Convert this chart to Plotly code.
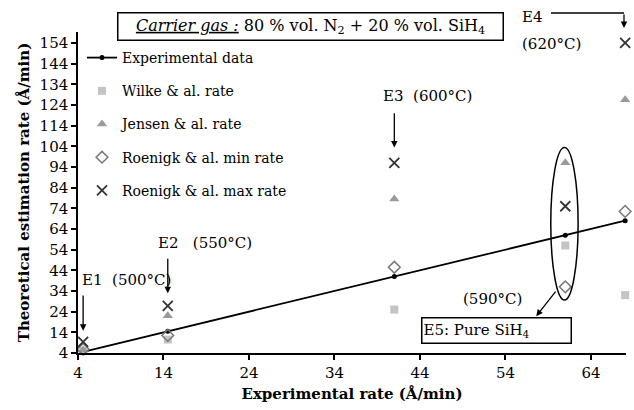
import plotly.graph_objects as go

# ---- data ----
experimental = [4.6, 14.5, 41.0, 61.0, 68.0]
exp_y = [4.6, 14.5, 41.0, 61.0, 68.0]
wilke = [5.0, 10.5, 25.0, 56.0, 32.0]
jensen = [5.5, 22.0, 78.5, 96.0, 126.5]
roenigk_min = [5.8, 12.5, 45.5, 36.0, 72.5]
roenigk_max = [9.4, 26.8, 96.0, 75.0, 154.0]

x_ticks = [4, 14, 24, 34, 44, 54, 64]
y_ticks = list(range(4, 155, 10))

FONT = "DejaVu Serif"

# plot area in pixels
L, R, T, B = 78, 626, 32, 353
W, H = 634, 410


def px(x):
    return (x - L) / (R - L)


def py(y):
    return (B - y) / (B - T)


fig = go.Figure()

fig.add_trace(go.Scatter(
    x=experimental, y=exp_y, mode="lines+markers", name="Experimental data",
    line=dict(color="black", width=1.8),
    marker=dict(symbol="circle", size=5, color="black"),
    cliponaxis=False, legendgroup="a"))
fig.add_trace(go.Scatter(
    x=experimental, y=wilke, mode="markers", name="Wilke & al. rate",
    marker=dict(symbol="square", size=8, color="#c4c4c4"),
    cliponaxis=False, legendgroup="b"))
fig.add_trace(go.Scatter(
    x=experimental, y=jensen, mode="markers", name="Jensen & al. rate",
    marker=dict(symbol="triangle-up", size=9, color="#9a9a9a"),
    cliponaxis=False, legendgroup="c"))
fig.add_trace(go.Scatter(
    x=experimental, y=roenigk_min, mode="markers", name="Roenigk & al. min rate",
    marker=dict(symbol="diamond-open", size=9, color="#777777", line=dict(width=1.5)),
    cliponaxis=False, legendgroup="d"))
fig.add_trace(go.Scatter(
    x=experimental, y=roenigk_max, mode="markers", name="Roenigk & al. max rate",
    marker=dict(symbol="x-thin-open", size=10, color="#333333", line=dict(width=1.8, color="#333333")),
    cliponaxis=False, legendgroup="e"))

axis_common = dict(
    showgrid=False, zeroline=False, showline=True, linecolor="black", linewidth=1.5,
    ticks="outside", ticklen=5, tickwidth=1.5, tickcolor="black", automargin=False,
    tickfont=dict(family=FONT, size=15, color="black"),
)

fig.update_xaxes(range=[4, 68.1], tickvals=x_ticks, **axis_common,
                 title=dict(text="<b>Experimental rate (Å/min)</b>",
                            font=dict(family=FONT, size=15, color="black"), standoff=8))
fig.update_yaxes(range=[4, 159.3], tickvals=y_ticks, **axis_common,
                 title=dict(text="<b>Theoretical estimation rate (Å/min)</b>",
                            font=dict(family=FONT, size=15, color="black"), standoff=6))

ann = []
txt_font = dict(family=FONT, size=15, color="black")

# Carrier gas box
ann.append(dict(xref="paper", yref="paper", x=px(310), y=py(26), xanchor="center", yanchor="middle",
                text="<i><u>Carrier gas :</u></i> 80 % vol. N<sub>2</sub> + 20 % vol. SiH<sub>4</sub>",
                showarrow=False, font=dict(family=FONT, size=16, color="black"),
                bordercolor="black", borderwidth=1.5,
                width=382, height=24, borderpad=1, bgcolor="white"))
# E5 box
ann.append(dict(xref="paper", yref="paper", x=px(496), y=py(330), xanchor="center", yanchor="middle",
                text="E5: Pure SiH<sub>4</sub>", align="left",
                showarrow=False, font=txt_font, bordercolor="black", borderwidth=1.5,
                width=146, height=22, borderpad=1, bgcolor="white"))

# labels
def label(text, x, y, anchor="left"):
    ann.append(dict(xref="paper", yref="paper", x=px(x), y=py(y), xanchor=anchor, yanchor="middle",
                    text=text, showarrow=False, font=txt_font))

label("E1  (500°C)", 80, 280)
label("E2   (550°C)", 156, 243)
label("E3  (600°C)", 381, 96)
label("E4", 520, 17)
label("(620°C)", 520, 44)
label("(590°C)", 461, 299)

# arrows (data coords)
def arrow(x, y, ax, ay):
    ann.append(dict(x=x, y=y, ax=ax, ay=ay, xref="x", yref="y", axref="x", ayref="y",
                    text="", showarrow=True, arrowhead=2, arrowsize=1, arrowwidth=1.3,
                    arrowcolor="black"))

arrow(4.6, 14.8, 4.6, 32.5)
arrow(14.5, 32.9, 14.5, 50.3)
arrow(41.0, 103.4, 41.0, 120.7)
arrow(57.6, 21.8, 60.0, 34.4)
# E4 bent arrow (paper, pixel offsets)
ann.append(dict(xref="paper", yref="paper", axref="pixel", ayref="pixel",
                x=px(624), y=py(28), ax=0, ay=-15, text="", showarrow=True,
                arrowhead=2, arrowsize=1, arrowwidth=1.3, arrowcolor="black"))

shapes = [
    dict(type="line", xref="paper", yref="paper", x0=px(551), y0=py(13), x1=px(624), y1=py(13),
         line=dict(color="black", width=1.3)),
    dict(type="circle", xref="x", yref="y", x0=59.3, x1=62.5, y0=29.6, y1=103.4,
         line=dict(color="black", width=1.5)),
]

fig.update_layout(
    width=W, height=H, autosize=False,
    margin=dict(l=L, r=W - R, t=T, b=H - B, autoexpand=False),
    paper_bgcolor="white", plot_bgcolor="white",
    annotations=ann, shapes=shapes,
    showlegend=True,
    legend=dict(x=px(82), y=py(42), xanchor="left", yanchor="top",
                font=dict(family=FONT, size=14, color="black"),
                bgcolor="rgba(0,0,0,0)", tracegroupgap=12, itemwidth=30),
)

fig.write_html("out.html", config={"displayModeBar": False},
               post_script="document.body.style.margin='0';document.body.style.overflow='hidden';")
